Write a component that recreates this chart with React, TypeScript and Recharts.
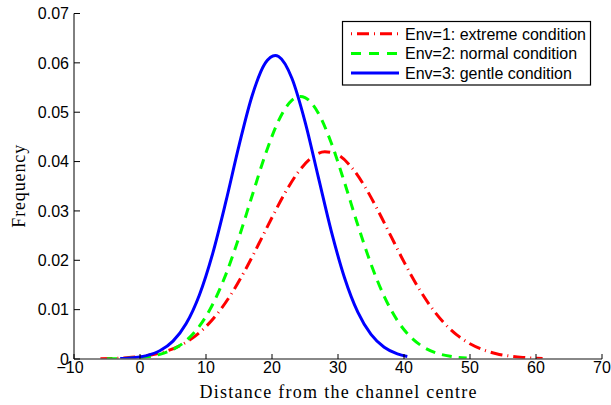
import React from 'react';
import { LineChart, Line, XAxis, YAxis, Legend } from 'recharts';

// Frequency vs. distance from the channel centre, one curve per environment
const extremeCondition = [
  { d: -6, f: 0.00006 }, { d: -4, f: 0.00013 }, { d: -2, f: 0.00026 }, { d: 0, f: 0.0005 },
  { d: 2, f: 0.00091 }, { d: 4, f: 0.0016 }, { d: 6, f: 0.00267 }, { d: 8, f: 0.00428 },
  { d: 10, f: 0.00657 }, { d: 12, f: 0.00964 }, { d: 14, f: 0.01353 }, { d: 16, f: 0.01817 },
  { d: 18, f: 0.02334 }, { d: 20, f: 0.02867 }, { d: 22, f: 0.03371 }, { d: 24, f: 0.03791 },
  { d: 26, f: 0.04079 }, { d: 28, f: 0.042 }, { d: 30, f: 0.04133 }, { d: 32, f: 0.03893 },
  { d: 34, f: 0.03508 }, { d: 36, f: 0.03024 }, { d: 38, f: 0.02494 }, { d: 40, f: 0.01967 },
  { d: 42, f: 0.01485 }, { d: 44, f: 0.01072 }, { d: 46, f: 0.0074 }, { d: 48, f: 0.00489 },
  { d: 50, f: 0.00309 }, { d: 52, f: 0.00187 }, { d: 54, f: 0.00108 }, { d: 56, f: 0.0006 },
  { d: 58, f: 0.00032 }, { d: 60, f: 0.00016 }, { d: 61, f: 0.00011 },
];

const normalCondition = [
  { d: -5, f: 0.00003 }, { d: -3, f: 0.00007 }, { d: -1, f: 0.00018 }, { d: 1, f: 0.00043 },
  { d: 3, f: 0.00094 }, { d: 5, f: 0.00194 }, { d: 7, f: 0.00372 }, { d: 9, f: 0.00664 },
  { d: 11, f: 0.01104 }, { d: 13, f: 0.0171 }, { d: 15, f: 0.02466 }, { d: 17, f: 0.03313 },
  { d: 19, f: 0.04144 }, { d: 21, f: 0.04829 }, { d: 23, f: 0.05241 }, { d: 24.3, f: 0.0532 },
  { d: 25, f: 0.05297 }, { d: 27, f: 0.04986 }, { d: 29, f: 0.04371 }, { d: 31, f: 0.0357 },
  { d: 33, f: 0.02715 }, { d: 35, f: 0.01923 }, { d: 37, f: 0.01268 }, { d: 39, f: 0.00779 },
  { d: 41, f: 0.00446 }, { d: 43, f: 0.00238 }, { d: 45, f: 0.00118 }, { d: 47, f: 0.00055 },
  { d: 49.5, f: 0.00019 },
];

const gentleCondition = [
  { d: -3, f: 0.00009 }, { d: -1, f: 0.00026 }, { d: 1, f: 0.00069 }, { d: 3, f: 0.00166 },
  { d: 5, f: 0.00362 }, { d: 7, f: 0.00718 }, { d: 9, f: 0.01298 }, { d: 11, f: 0.02131 },
  { d: 13, f: 0.03182 }, { d: 15, f: 0.04323 }, { d: 17, f: 0.0534 }, { d: 19, f: 0.05998 },
  { d: 20.5, f: 0.0615 }, { d: 21, f: 0.06128 }, { d: 23, f: 0.05693 }, { d: 25, f: 0.04811 },
  { d: 27, f: 0.03696 }, { d: 29, f: 0.02582 }, { d: 31, f: 0.01641 }, { d: 33, f: 0.00948 },
  { d: 35, f: 0.00498 }, { d: 37, f: 0.00238 }, { d: 39, f: 0.00103 }, { d: 40.5, f: 0.00052 },
];

const xTicks = [-10, 0, 10, 20, 30, 40, 50, 60, 70];
const xTickLabels = ['\u221210', '0', '10', '20', '30', '40', '50', '60', '70'];
const yTicks = [0, 0.01, 0.02, 0.03, 0.04, 0.05, 0.06, 0.07];
const yTickLabels = ['0', '0.01', '0.02', '0.03', '0.04', '0.05', '0.06', '0.07'];

const series = [
  { key: 'env1', name: 'Env=1: extreme condition', data: extremeCondition, color: '#ff0000', dash: '12 5 1 5', legendDash: '1 5 12 5' },
  { key: 'env2', name: 'Env=2: normal condition', data: normalCondition, color: '#00ff00', dash: '10 7', legendDash: '10 8' },
  { key: 'env3', name: 'Env=3: gentle condition', data: gentleCondition, color: '#0000ff', dash: undefined, legendDash: undefined },
];

const SANS = '"Liberation Sans", Arial, Helvetica, sans-serif';
const SERIF = '"Liberation Serif", "Times New Roman", Times, serif';

const Y_TICK_MARGIN = 5;
const X_TICK_MARGIN = 3;

const YTick = (props: any) => {
  const { x, y, payload } = props;
  const i = yTicks.indexOf(payload.value);
  const label = i >= 0 ? yTickLabels[i] : String(payload.value);
  const axisX = x + Y_TICK_MARGIN;
  return (
    <g>
      <line x1={axisX} x2={axisX + 6} y1={y} y2={y} stroke="#000" strokeWidth={1} />
      <text x={x} y={y} dy="0.36em" textAnchor="end" fontFamily={SANS} fontSize={16} fill="#000">
        {label}
      </text>
    </g>
  );
};

const XTick = (props: any) => {
  const { x, y, payload } = props;
  const i = xTicks.indexOf(payload.value);
  const label = i >= 0 ? xTickLabels[i] : String(payload.value);
  const axisY = y - X_TICK_MARGIN;
  const shift = payload.value < 0 ? -4 : 0;
  return (
    <g>
      <line x1={x} x2={x} y1={axisY} y2={axisY - 5} stroke="#000" strokeWidth={1} />
      <text x={x + shift} y={y} dy="0.71em" textAnchor="middle" fontFamily={SANS} fontSize={16} fill="#000">
        {label}
      </text>
    </g>
  );
};

const XLabel = (props: any) => {
  const vb = props.viewBox || { x: 74, y: 359, width: 528, height: 46 };
  const cx = vb.x + vb.width / 2;
  return (
    <text x={cx} y={vb.y + 39} textAnchor="middle" fontFamily={SERIF} fontSize={18}
      textLength={277} lengthAdjust="spacing" fill="#000">
      Distance from the channel centre
    </text>
  );
};

const YLabel = (props: any) => {
  const vb = props.viewBox || { x: 0, y: 13.5, width: 74, height: 345.5 };
  const cy = vb.y + vb.height / 2;
  const bx = 24.5;
  return (
    <text x={bx} y={cy} transform={`rotate(-90, ${bx}, ${cy})`} textAnchor="middle" fontFamily={SERIF}
      fontSize={18} textLength={83} lengthAdjust="spacing" fill="#000">
      Frequency
    </text>
  );
};

const LegendBox = () => {
  const w = 249;
  const h = 64.5;
  const rowY = [12.8, 32.6, 52];
  return (
    <svg width={w} height={h} style={{ display: 'block', overflow: 'visible' }}>
      <rect x={0.5} y={0.5} width={w - 1} height={h - 1} fill="#fff" stroke="#000" strokeWidth={1.2} />
      {series.map((s, i) => (
        <g key={s.key}>
          <line x1={9} x2={57} y1={rowY[i]} y2={rowY[i]} stroke={s.color} strokeWidth={3}
            strokeDasharray={s.legendDash} />
          <text x={63} y={rowY[i]} dy="0.36em" fontFamily={SANS} fontSize={16} fill="#000">
            {s.name}
          </text>
        </g>
      ))}
    </svg>
  );
};

export default function App() {
  return (
    <div style={{ position: 'absolute', left: 0, top: 0, width: 611, height: 405, background: '#fff' }}>
      <LineChart width={611} height={405} margin={{ top: 13.5, right: 9, left: 0, bottom: 0 }}>
        <XAxis
          type="number"
          dataKey="d"
          domain={[-10, 70]}
          ticks={xTicks}
          interval={0}
          allowDataOverflow
          axisLine={{ stroke: '#606060', strokeWidth: 1.6 }}
          tickLine={false}
          tickSize={0}
          tickMargin={X_TICK_MARGIN}
          tick={<XTick />}
          height={46}
          label={<XLabel />}
        />
        <YAxis
          type="number"
          dataKey="f"
          domain={[0, 0.07]}
          ticks={yTicks}
          interval={0}
          allowDataOverflow
          axisLine={{ stroke: '#000', strokeWidth: 1 }}
          tickLine={false}
          tickSize={0}
          tickMargin={Y_TICK_MARGIN}
          tick={<YTick />}
          width={74}
          label={<YLabel />}
        />
        {series.map((s) => (
          <Line
            key={s.key}
            data={s.data}
            dataKey="f"
            name={s.name}
            type="monotone"
            stroke={s.color}
            strokeWidth={3}
            strokeDasharray={s.dash}
            dot={false}
            activeDot={false}
            isAnimationActive={false}
          />
        ))}
        <Legend
          layout="horizontal"
          verticalAlign="middle"
          align="center"
          content={<LegendBox />}
          wrapperStyle={{ position: 'absolute', left: 341.5, top: 20.5, width: 249, height: 65 }}
        />
      </LineChart>
    </div>
  );
}
